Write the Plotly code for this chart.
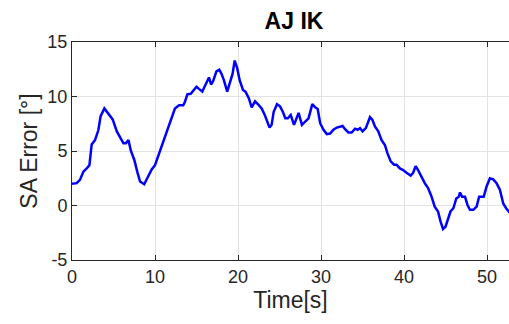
import plotly.graph_objects as go

time_s = [0.0, 0.56, 0.96, 1.37, 1.77, 2.1, 2.37, 2.77, 3.17, 3.45, 3.9, 4.2, 4.5, 4.9, 5.4, 5.8,
          6.2, 6.5, 6.8, 7.1, 7.5, 7.9, 8.2, 8.7, 9.1, 9.6, 10.0, 10.4, 10.8, 11.2, 11.6, 12.0,
          12.4, 12.9, 13.4, 13.6, 13.9, 14.3, 14.7, 15.0, 15.3, 15.7, 16.1, 16.5, 16.75, 17.0,
          17.4, 17.75, 18.0, 18.3, 18.7, 19.0, 19.35, 19.6, 19.9, 20.2, 20.6, 20.9, 21.3, 21.65,
          22.05, 22.45, 22.85, 23.25, 23.8, 24.05, 24.3, 24.7, 25.06, 25.4, 25.7, 26.0, 26.35,
          26.75, 27.1, 27.3, 27.7, 28.1, 28.5, 28.95, 29.3, 29.6, 29.9, 30.3, 30.7, 31.1, 31.5,
          31.9, 32.3, 32.6, 32.9, 33.3, 33.7, 34.1, 34.4, 34.7, 35.0, 35.4, 35.9, 36.2, 36.5,
          36.9, 37.3, 37.7, 38.0, 38.4, 38.8, 39.1, 39.5, 39.9, 40.3, 40.8, 41.1, 41.4, 41.7,
          42.1, 42.5, 42.9, 43.3, 43.7, 44.1, 44.4, 44.7, 45.0, 45.35, 45.6, 45.95, 46.3, 46.6,
          46.75, 47.0, 47.35, 47.65, 47.95, 48.35, 48.75, 49.05, 49.35, 49.6, 49.95, 50.35,
          50.75, 51.15, 51.55, 51.95, 52.3, 52.6, 52.9]
sa_error = [2.0, 2.05, 2.35, 3.1, 3.4, 3.7, 5.6, 6.0, 6.9, 8.2, 8.9, 8.6, 8.2, 7.9, 6.8, 6.3,
            5.7, 5.7, 6.0, 5.0, 4.2, 3.0, 2.2, 1.95, 2.5, 3.3, 3.7, 4.55, 5.6, 6.4, 7.1, 8.0,
            8.9, 9.2, 9.2, 9.5, 10.2, 10.25, 10.6, 10.9, 10.7, 10.45, 11.1, 11.75, 11.1, 11.4,
            12.3, 12.45, 12.1, 11.5, 10.45, 11.2, 12.1, 13.3, 12.6, 11.5, 10.6, 10.45, 9.85, 9.0,
            9.55, 9.25, 8.9, 8.25, 7.15, 7.4, 8.6, 9.3, 9.1, 8.6, 8.0, 8.0, 8.3,
            7.4, 8.0, 8.5, 7.4, 7.7, 8.0, 9.3, 9.0, 8.85, 7.55, 6.95, 6.55, 6.6, 6.95,
            7.15, 7.2, 7.3, 7.0, 6.7, 6.7, 7.05, 6.95, 7.1, 6.8, 7.1, 8.1, 7.85, 7.25,
            6.8, 6.0, 5.55, 4.8, 4.05, 3.75, 3.75, 3.4, 3.25, 3.0, 2.75, 3.0, 3.6, 3.25,
            2.65, 2.05, 1.6, 0.85, -0.1, -0.55, -1.45, -2.15, -1.95, -1.0, -0.55, -0.25, 0.65, 0.8,
            1.2, 0.8, 0.8, 0.05, -0.4, -0.4, -0.1, 0.8, 0.8, 0.8, 1.75, 2.5,
            2.4, 2.05, 1.45, 0.2, -0.25, -0.55, -0.8]

x_ticks = [0, 10, 20, 30, 40, 50]
y_ticks = [-5, 0, 5, 10, 15]
y_tick_labels = ["-5", "0", "5", "10", "15"]

axis_col = "#262626"
grid_col = "#e3e3e3"
font = "Liberation Sans, Arial, sans-serif"

fig = go.Figure()
fig.add_trace(go.Scatter(x=time_s, y=sa_error, mode="lines",
                         line=dict(color="#0000ff", width=2.5), showlegend=False))

fig.update_layout(
    width=509, height=324,
    margin=dict(l=72, r=0, t=42, b=64),
    paper_bgcolor="white", plot_bgcolor="white",
    font=dict(family=font, color=axis_col),
    title=dict(text="<b>AJ IK</b>", x=0.508, xref="paper", xanchor="center",
               y=0.935, yref="container", yanchor="middle",
               font=dict(size=23, color="black", family=font)),
)
fig.update_xaxes(range=[0, 52.65], tickvals=x_ticks, showgrid=True, gridcolor=grid_col,
                 gridwidth=1, zeroline=False, showline=True, linecolor=axis_col, linewidth=1,
                 mirror="ticks", ticks="inside", ticklen=5, tickcolor=axis_col,
                 tickfont=dict(size=18, color=axis_col),
                 title=dict(text="Time[s]", font=dict(size=23, color=axis_col), standoff=6))
fig.update_yaxes(range=[-5, 15], tickvals=y_ticks, ticktext=y_tick_labels, showgrid=True,
                 gridcolor=grid_col, gridwidth=1, zeroline=False, showline=True,
                 linecolor=axis_col, linewidth=1,
                 ticks="inside", ticklen=5, tickcolor=axis_col,
                 tickfont=dict(size=18, color=axis_col),
                 title=dict(text="SA Error [°]", font=dict(size=23, color=axis_col), standoff=3))

fig.write_html("out.html")
